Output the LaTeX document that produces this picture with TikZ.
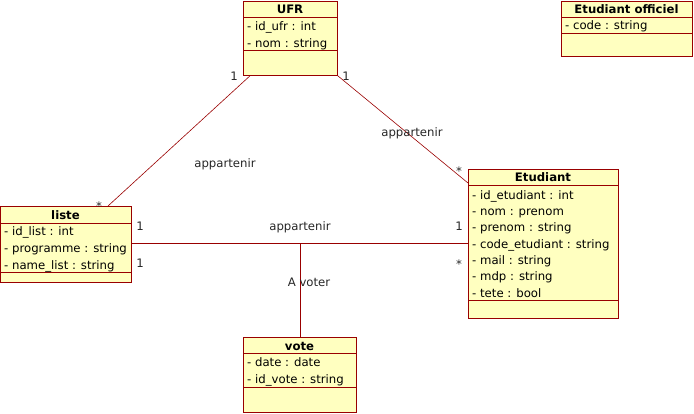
\documentclass[tikz,border=0pt]{standalone}
\usepackage{fontspec}
\setmainfont{DejaVu Sans}
\definecolor{umlred}{RGB}{153,0,0}
\definecolor{umlfill}{RGB}{255,255,192}
\begin{document}
\begin{tikzpicture}[x=1pt,y=-1pt,font=\fontsize{11.7}{14}\selectfont]
\tikzstyle{classbox}=[draw=umlred,fill=umlfill,line width=0.8pt,inner sep=0pt,anchor=north west];
\tikzstyle{ctitle}=[font=\fontsize{11.7}{14}\selectfont\bfseries,inner sep=0pt,text height=10pt,text depth=1.5pt];
\tikzstyle{attr}=[anchor=west,inner sep=0pt,text height=10pt,text depth=1.5pt];
\tikzstyle{sep}=[draw=umlred,line width=0.8pt];
\tikzstyle{assoc}=[draw=umlred,line width=0.6pt];
\tikzstyle{mult}=[inner sep=0pt,text=black!85,text height=10pt,text depth=1.5pt];
\useasboundingbox (0,0) rectangle (694,413);

% classes
\node[classbox,minimum width=94pt,minimum height=74pt] (ufr) at (243,1) {};
\node[classbox,minimum width=131pt,minimum height=55pt] (officiel) at (561,1) {};
\node[classbox,minimum width=131pt,minimum height=76pt] (liste) at (0,206) {};
\node[classbox,minimum width=150pt,minimum height=149pt] (etudiant) at (468,169) {};
\node[classbox,minimum width=113pt,minimum height=75pt] (vote) at (243,337) {};

% titles
\node[ctitle] (ufrt) at (290,9.5) {UFR};
\node[ctitle] (officielt) at (626.5,9.5) {Etudiant officiel};
\node[ctitle] (listet) at (65.5,215) {liste};
\node[ctitle] (etudiantt) at (543,177.5) {Etudiant};
\node[ctitle] (votet) at (299.5,346) {vote};

% separators
\draw[sep] ([yshift=-16pt]ufr.north west) -- ([yshift=-16pt]ufr.north east);
\draw[sep] ([yshift=-49pt]ufr.north west) -- ([yshift=-49pt]ufr.north east);
\draw[sep] ([yshift=-16pt]officiel.north west) -- ([yshift=-16pt]officiel.north east);
\draw[sep] ([yshift=-32pt]officiel.north west) -- ([yshift=-32pt]officiel.north east);
\draw[sep] ([yshift=-17pt]liste.north west) -- ([yshift=-17pt]liste.north east);
\draw[sep] ([yshift=-66pt]liste.north west) -- ([yshift=-66pt]liste.north east);
\draw[sep] ([yshift=-16pt]etudiant.north west) -- ([yshift=-16pt]etudiant.north east);
\draw[sep] ([yshift=-131pt]etudiant.north west) -- ([yshift=-131pt]etudiant.north east);
\draw[sep] ([yshift=-16pt]vote.north west) -- ([yshift=-16pt]vote.north east);
\draw[sep] ([yshift=-50pt]vote.north west) -- ([yshift=-50pt]vote.north east);

% attributes
\node[attr] (ufr1) at (247,26) {- id\_ufr : int};
\node[attr] (ufr2) at (247,43) {- nom : string};
\node[attr] (officiel1) at (565,25) {- code : string};
\node[attr] (liste1) at (4,231) {- id\_list : int};
\node[attr] (liste2) at (4,248) {- programme : string};
\node[attr] (liste3) at (4,265) {- name\_list : string};
\node[attr] (etudiant1) at (472,195) {- id\_etudiant : int};
\node[attr] (etudiant2) at (472,211.3) {- nom : prenom};
\node[attr] (etudiant3) at (472,227.6) {- prenom : string};
\node[attr] (etudiant4) at (472,243.9) {- code\_etudiant : string};
\node[attr] (etudiant5) at (472,260.2) {- mail : string};
\node[attr] (etudiant6) at (472,276.5) {- mdp : string};
\node[attr] (etudiant7) at (472,292.8) {- tete : bool};
\node[attr] (vote1) at (247,362) {- date : date};
\node[attr] (vote2) at (247,379) {- id\_vote : string};

% associations
\coordinate (vj) at (vote.north |- liste.east);
\draw[assoc] ([xshift=7pt]ufr.south west) -- ([xshift=108pt]liste.north west);
\draw[assoc] (ufr.south east) -- ([yshift=-14pt]etudiant.north west);
\draw[assoc] ([yshift=-37pt]liste.north east) -- ([yshift=-74pt]etudiant.north west);
\draw[assoc] (vj) -- (vote.north);

% labels
\node[mult] (m1) at (234,76) {1};
\node[mult] (m2) at (99,206) {*};
\node[mult] (m3) at (346,76) {1};
\node[mult] (m4) at (459,171) {*};
\node[mult] (m5) at (140,226) {1};
\node[mult] (m6) at (459,226) {1};
\node[mult] (m7) at (140,263) {1};
\node[mult] (m8) at (459,264) {*};
\node[mult] (a1) at (225,163) {appartenir};
\node[mult] (a2) at (412,132) {appartenir};
\node[mult] (a3) at (300,226) {appartenir};
\node[mult] (a4) at (309,282) {A voter};
\end{tikzpicture}
\end{document}
